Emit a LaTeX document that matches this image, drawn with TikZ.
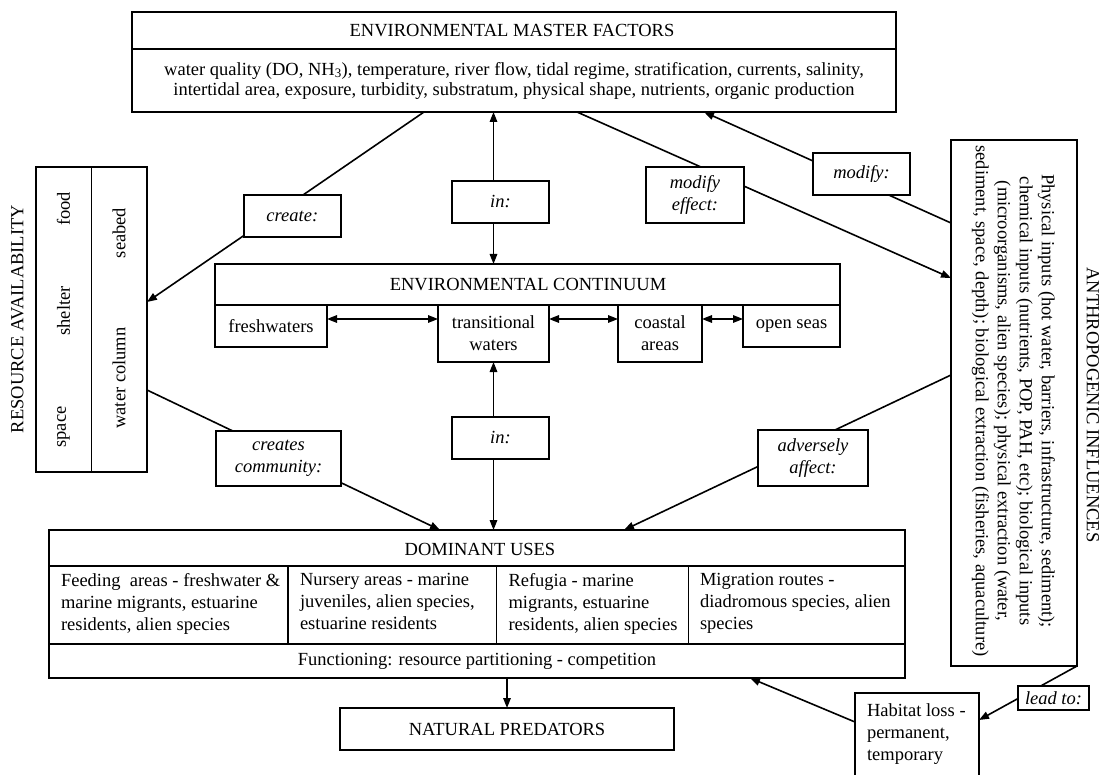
\documentclass[tikz,border=0pt]{standalone}
\usepackage{fontspec}
\setmainfont{Liberation Serif}
\usetikzlibrary{arrows.meta,calc}
\begin{document}
\begin{tikzpicture}[x=1pt,y=-1pt,
  every node/.style={inner sep=0pt,outer sep=0pt},
  ln/.style={draw=black,line width=1.6pt},
  arr/.style={-{Triangle[length=10pt,width=7.5pt]}},
  darr/.style={{Triangle[length=10pt,width=7.5pt]}-{Triangle[length=10pt,width=7.5pt]}},
  bx/.style={draw=black,line width=1.6pt,fill=white,rectangle},
  fn/.style={font=\fontsize{18.5}{22}\selectfont},
  tf/.style={font=\fontsize{18.5}{20.5}\selectfont},
  lb/.style={bx,font=\fontsize{18.5}{22}\selectfont\itshape,align=center},
  ]
\useasboundingbox (0,0) rectangle (1105,775);
\clip (0,0) rectangle (1105,775);
\fill[white] (0,0) rectangle (1105,775);

% ---------- master factors
\node[bx,minimum width=764pt,minimum height=100pt] (master) at (514,62) {};
\draw[ln] ($(master.north west)+(0,37)$) -- ($(master.north east)+(0,37)$);
\node[tf] (mtitle) at (512,30.5) {ENVIRONMENTAL MASTER FACTORS};
\node[tf,align=center] (mbody) at (514,81) {water quality (DO, NH\textsubscript{3}), temperature, river flow, tidal regime, stratification, currents, salinity,\\intertidal area, exposure, turbidity, substratum, physical shape, nutrients, organic production};

% ---------- resource availability
\node[bx,minimum width=111pt,minimum height=305pt] (res) at (91.5,319.5) {};
\draw[ln] (res.north) -- (res.south);
\node[fn,rotate=90] (food) at (63.5,209) {food};
\node[fn,rotate=90] (shelter) at (63.5,311) {shelter};
\node[fn,rotate=90] (space) at (63.5,427) {space};
\node[fn,rotate=90] (seabed) at (119,233) {seabed};
\node[fn,rotate=90] (wcol) at (119,378) {water column};
\node[fn,rotate=90] (resl) at (17.5,319) {RESOURCE AVAILABILITY};

% ---------- environmental continuum
\node[bx,minimum width=625pt,minimum height=41pt] (cont) at (527.5,284.5) {};
\node[fn] (contl) at (528,285) {ENVIRONMENTAL CONTINUUM};
\node[bx,fn,minimum width=112pt,minimum height=42pt] (fresh) at (271,326) {freshwaters};
\node[bx,fn,align=center,minimum width=111pt,minimum height=57pt] (trans) at (493.5,333.5) {transitional\\waters};
\node[bx,fn,align=center,minimum width=84pt,minimum height=57pt] (coast) at (660,333.5) {coastal\\areas};
\node[bx,fn,minimum width=97pt,minimum height=42pt] (open) at (791.5,326) {open seas};
\coordinate (ay) at (0,319);
\draw[ln,darr] (fresh.east |- ay) -- (trans.west |- ay);
\draw[ln,darr] (trans.east |- ay) -- (coast.west |- ay);
\draw[ln,darr] (coast.east |- ay) -- (open.west |- ay);

% ---------- anthropogenic influences
\node[bx,minimum width=126pt,minimum height=526pt] (anthro) at (1014,403) {};
\node[fn,align=center,rotate=-90] (atext) at (1013.5,401) {Physical inputs (hot water, barriers, infrastructure, sediment);\\chemical inputs (nutrients, POP, PAH, etc); biological inputs\\(microorganisms, alien species); physical extraction (water,\\sediment, space, depth); biological extraction (fisheries, aquaculture)};
\node[fn,rotate=-90] (antl) at (1093,405) {ANTHROPOGENIC INFLUENCES};

% ---------- dominant uses
\node[bx,minimum width=856pt,minimum height=148pt] (dom) at (477,604) {};
\draw[ln] ($(dom.north west)+(0,36)$) -- ($(dom.north east)+(0,36)$);
\draw[ln] ($(dom.north west)+(0,114)$) -- ($(dom.north east)+(0,114)$);
\draw[ln] ($(dom.north west)+(239,36)$) -- ($(dom.north west)+(239,114)$);
\draw[ln] ($(dom.north west)+(447.5,36)$) -- ($(dom.north west)+(447.5,114)$);
\draw[ln] ($(dom.north west)+(639.5,36)$) -- ($(dom.north west)+(639.5,114)$);
\node[fn] (domt) at (480,549) {DOMINANT USES};
\node[fn,align=left,anchor=north west] (c1) at (61,573) {Feeding~ areas - freshwater \&\\marine migrants, estuarine\\residents, alien species};
\node[fn,align=left,anchor=north west] (c2) at (300,573) {Nursery areas - marine\\juveniles, alien species,\\estuarine residents};
\node[fn,align=left,anchor=north west] (c3) at (508.5,573) {Refugia - marine\\migrants, estuarine\\residents, alien species};
\node[fn,align=left,anchor=north west] (c4) at (700,573) {Migration routes -\\diadromous species, alien\\species};
\node[fn] (func) at (477,661.5) {Functioning: resource partitioning - competition};

% ---------- natural predators, habitat loss
\node[bx,fn,minimum width=334pt,minimum height=42pt] (np) at (507,729) {NATURAL PREDATORS};
\node[bx,minimum width=124pt,minimum height=97pt] (hab) at (917,741.5) {};
\node[fn,align=left,anchor=north west] (habt) at (867,704) {Habitat loss -\\permanent,\\temporary};

% ---------- connectors (straight lines under label boxes)
\draw[ln,arr] ($(master.south west)+(292,0)$) -- ($(res.north east)+(0,135)$);
\draw[ln,arr] ($(master.south west)+(445,0)$) -- ($(anthro.north west)+(0,138)$);
\draw[ln,arr] ($(anthro.north west)+(0,83)$) -- ($(master.south west)+(572,0)$);
\draw[ln,arr] ($(res.north east)+(0,223)$) -- ($(dom.north west)+(391,0)$);
\draw[ln,arr] ($(anthro.north west)+(0,235)$) -- ($(dom.north west)+(575,0)$);
\draw[ln,arr] (anthro.south east) -- ($(hab.north east)+(0,27)$);
\draw[ln,arr] ($(hab.north west)+(0,29)$) -- ($(dom.south west)+(701,0)$);
\draw[ln,arr] (dom.south -| np.north) -- (np.north);

% ---------- label boxes
\node[lb,minimum width=97pt,minimum height=42pt] (create) at (292.3,216) {create:};
\node[lb,minimum width=97pt,minimum height=42pt] (inup) at (500.5,202) {in:};
\node[lb,minimum width=98pt,minimum height=56pt] (modeff) at (695,195) {modify\\effect:};
\node[lb,minimum width=97pt,minimum height=42pt] (modify) at (861.5,174) {modify:};
\node[lb,minimum width=125pt,minimum height=55pt] (creates) at (278.5,458.5) {creates\\community:};
\node[lb,minimum width=97pt,minimum height=42pt] (indown) at (500.5,438) {in:};
\node[lb,minimum width=110pt,minimum height=56pt] (adverse) at (813,458) {adversely\\affect:};
\node[lb,minimum width=71pt,minimum height=24pt] (leadto) at (1053.5,698) {lead to:};

\draw[ln,arr] (inup.north -| trans.north) -- (master.south -| trans.north);
\draw[ln,arr] (inup.south -| trans.north) -- (cont.north -| trans.north);
\draw[ln,arr] (indown.north -| trans.south) -- (trans.south);
\draw[ln,arr] (indown.south -| trans.south) -- (dom.north -| trans.south);
\end{tikzpicture}
\end{document}
